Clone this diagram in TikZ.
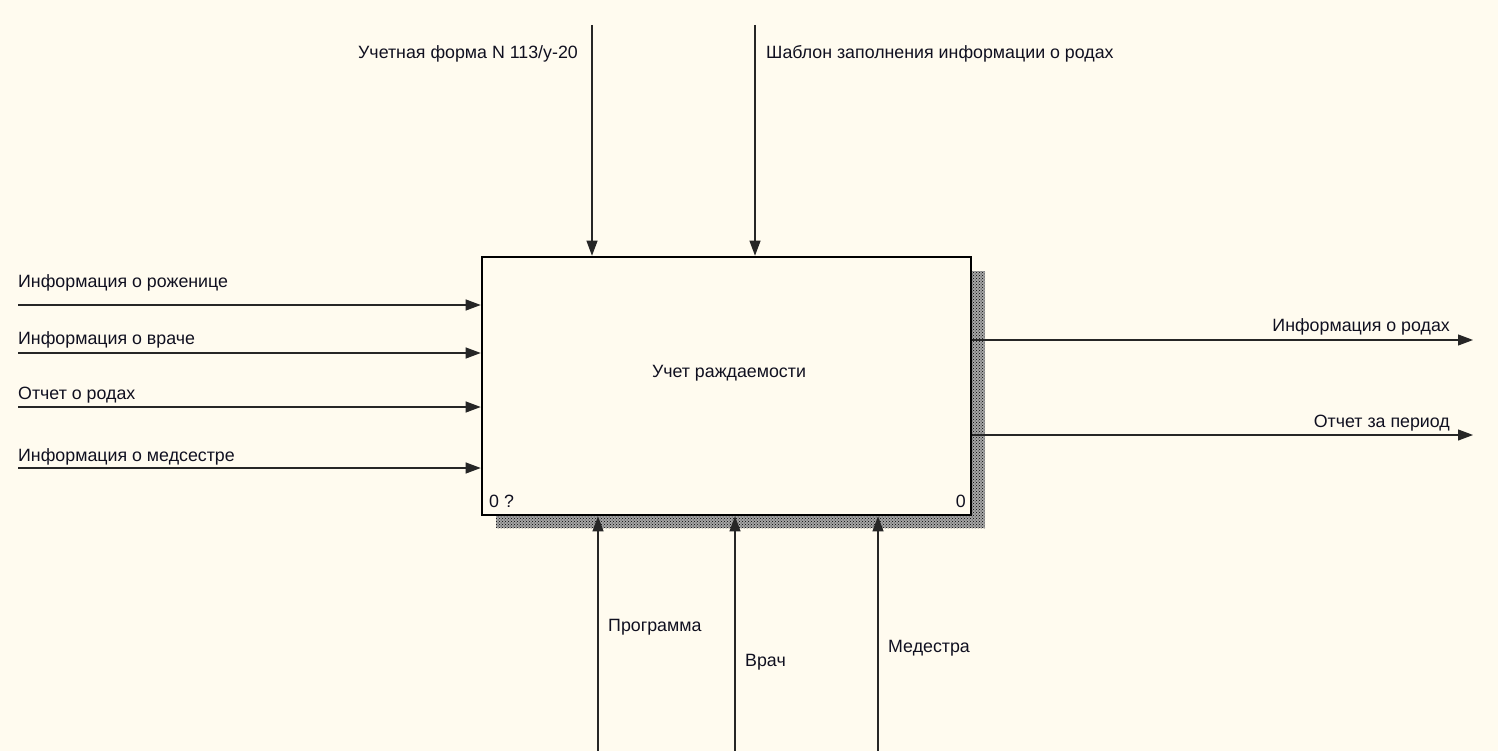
\documentclass[tikz,border=0pt]{standalone}
\usepackage{fontspec}
\setmainfont{Liberation Sans}
\usetikzlibrary{arrows.meta,patterns}
\definecolor{bgc}{HTML}{FFFBEF}
\definecolor{txtc}{HTML}{101020}
\tikzset{
  lbl/.style={inner sep=0pt, font=\fontsize{17.8}{20}\selectfont, text=txtc},
  arr/.style={line width=1.1pt, draw=black!85, -{Triangle[length=15pt,width=11pt]}},
  boxst/.style={draw=black, line width=2.6pt, fill=bgc, minimum width=489pt, minimum height=258pt, inner sep=0pt}
}
\begin{document}
\begin{tikzpicture}[x=1pt,y=-1pt]
\useasboundingbox[fill=bgc] (0,0) rectangle (1498,751);
% shadow
\fill[black!35] (496,271) rectangle (985,528);
\fill[pattern=crosshatch dots, pattern color=black] (496,271) rectangle (985,528);
\node[boxst] (box) at (726.5,386) {};
\node[lbl] (title) at (729,373) {Учет раждаемости};
\node[lbl, anchor=south west] (num1) at (489,508) {0 ?};
\node[lbl, anchor=south east] (num2) at (966,508) {0};
% top controls
\coordinate (t1) at (592,25);
\coordinate (t2) at (755,25);
\draw[arr] (t1) -- (t1 |- box.north);
\draw[arr] (t2) -- (t2 |- box.north);
\node[lbl, anchor=east] (lt1) at (578,54) {Учетная форма N 113/у-20};
\node[lbl, anchor=west] (lt2) at (766,54) {Шаблон заполнения информации о родах};
% inputs
\coordinate (i1) at (18,305);
\coordinate (i2) at (18,353);
\coordinate (i3) at (18,407);
\coordinate (i4) at (18,468);
\foreach \c in {i1,i2,i3,i4} \draw[arr] (\c) -- (\c -| box.west);
\node[lbl, anchor=west] (li1) at (18,283) {Информация о роженице};
\node[lbl, anchor=west] (li2) at (18,340) {Информация о враче};
\node[lbl, anchor=west] (li3) at (18,395) {Отчет о родах};
\node[lbl, anchor=west] (li4) at (18,457) {Информация о медсестре};
% outputs
\coordinate (o1) at (1473,340);
\coordinate (o2) at (1473,435);
\draw[arr] (o1 -| box.east) -- (o1);
\draw[arr] (o2 -| box.east) -- (o2);
\node[lbl, anchor=east] (lo1) at (1450,327) {Информация о родах};
\node[lbl, anchor=east] (lo2) at (1450,423) {Отчет за период};
% mechanisms
\coordinate (m1) at (598,751);
\coordinate (m2) at (735,751);
\coordinate (m3) at (878,751);
\foreach \c in {m1,m2,m3} \draw[arr] (\c) -- (\c |- box.south);
\node[lbl, anchor=west] (lm1) at (608,627) {Программа};
\node[lbl, anchor=west] (lm2) at (745,662) {Врач};
\node[lbl, anchor=west] (lm3) at (888,648) {Медестра};
\end{tikzpicture}
\end{document}
